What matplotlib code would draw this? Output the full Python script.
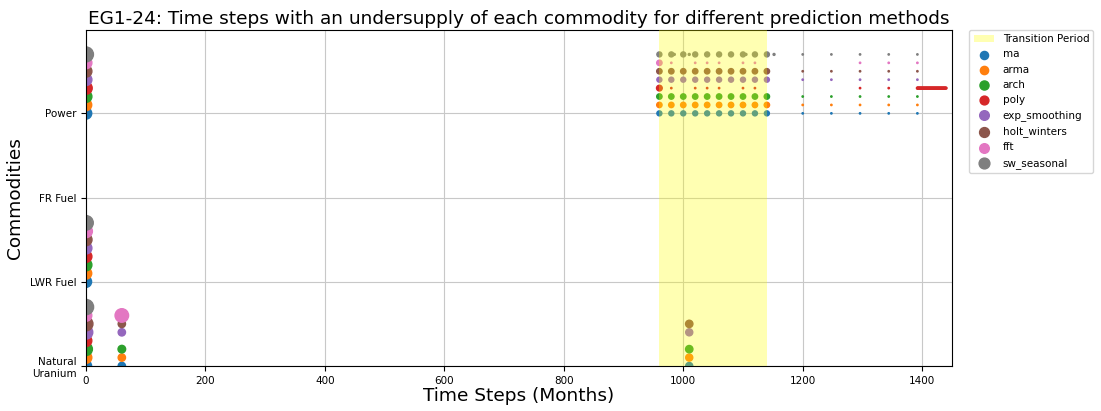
"""
Undersupply time steps per commodity for each prediction method (EG1-24)
"""
import numpy as np
import matplotlib
matplotlib.use("Agg")
import matplotlib.pyplot as plt

# ── data ──
commodities = ["Natural\nUranium", "LWR Fuel", "FR Fuel", "Power"]
methods = ["ma", "arma", "arch", "poly", "exp_smoothing",
           "holt_winters", "fft", "sw_seasonal"]
colors = ["#1f77b4", "#ff7f0e", "#2ca02c", "#d62728", "#9467bd",
          "#8c564b", "#e377c2", "#7f7f7f"]

transition = (960, 1140)

# marker size = undersupply magnitude (0 = no undersupply)
nu_t0_sizes = [65, 70, 85, 70, 95, 100, 70, 120]
lwr_t0_sizes = [65, 68, 72, 72, 72, 75, 85, 110]
power_t0_sizes = [68, 68, 72, 80, 72, 72, 72, 115]

nu_t60_sizes = [28, 28, 30, 0, 28, 28, 95, 0]
nu_t1010_sizes = [26, 26, 28, 0, 26, 28, 0, 0]

power_trans_steps = [960, 980, 1000, 1020, 1040, 1060, 1080, 1100, 1120, 1140]
power_trans_sizes = {
    "ma":            [13, 13, 13, 13, 13, 13, 13, 13, 13, 13],
    "arma":          [15, 15, 15, 15, 15, 15, 15, 15, 15, 15],
    "arch":          [15, 15, 15, 15, 15, 15, 15, 15, 15, 15],
    "poly":          [17, 1, 0, 1, 1, 1, 0, 1, 1, 0],
    "exp_smoothing": [13, 13, 13, 13, 13, 13, 13, 13, 13, 13],
    "holt_winters":  [15, 15, 15, 15, 15, 15, 15, 15, 15, 15],
    "fft":           [15, 1, 0, 1, 1, 1, 0, 1, 1, 0],
    "sw_seasonal":   [13, 13, 13, 13, 13, 13, 13, 13, 13, 13],
}
sw_extra_steps = [985, 1010, 1105, 1152]
sw_extra_sizes = [2, 2, 2, 2]

power_late_steps = [1200, 1248, 1296, 1344, 1392]
power_late_sizes = {
    "ma":            [1, 1, 1, 1, 1],
    "arma":          [1, 1, 1, 1, 1],
    "arch":          [1, 1, 1, 1, 1],
    "poly":          [0, 0, 1, 1, 1],
    "exp_smoothing": [1, 1, 1, 1, 1],
    "holt_winters":  [1, 1, 1, 1, 1],
    "fft":           [0, 0, 1, 1, 1],
    "sw_seasonal":   [1, 1, 1, 1, 1],
}
poly_tail_steps = list(range(1392, 1441))
poly_tail_size = 2


def collect(i, m):
    xs, ys, ss = [], [], []
    off = 0.1 * i
    # (commodity index, step, size)
    for c, sizes in [(0, nu_t0_sizes), (1, lwr_t0_sizes), (3, power_t0_sizes)]:
        if sizes[i] > 0:
            xs.append(0); ys.append(c + off); ss.append(sizes[i])
    for t, sizes in [(60, nu_t60_sizes), (1010, nu_t1010_sizes)]:
        if sizes[i] > 0:
            xs.append(t); ys.append(off); ss.append(sizes[i])
    for t, s in zip(power_trans_steps, power_trans_sizes[m]):
        if s > 0:
            xs.append(t); ys.append(3 + off); ss.append(s)
    for t, s in zip(power_late_steps, power_late_sizes[m]):
        if s > 0:
            xs.append(t); ys.append(3 + off); ss.append(s)
    if m == "sw_seasonal":
        for t, s in zip(sw_extra_steps, sw_extra_sizes):
            xs.append(t); ys.append(3 + off); ss.append(s)
    if m == "poly":
        for t in poly_tail_steps:
            xs.append(t); ys.append(3 + off); ss.append(poly_tail_size)
    return np.array(xs), np.array(ys), np.array(ss)


fig, ax = plt.subplots(figsize=(11.01, 4.11), dpi=100)
fig.subplots_adjust(left=0.0781, right=0.8647, top=0.927, bottom=0.1095)

# span first so it leads the legend, but drawn above the points
ax.axvspan(transition[0], transition[1], color="yellow", alpha=0.3,
           lw=0, zorder=3, label="Transition Period")

for i, m in enumerate(methods):
    xs, ys, ss = collect(i, m)
    ax.scatter(xs, ys, s=ss, color=colors[i], label=m, zorder=2)

ax.set_xlim(0, 1450)
ax.set_ylim(0, 3.99)
ax.set_yticks(range(len(commodities)))
ax.set_yticklabels(commodities)
ax.tick_params(labelsize=7.5)
ax.grid(True, color="#c8c8c8", lw=0.8)
ax.set_axisbelow(True)

ax.set_title("EG1-24: Time steps with an undersupply of each commodity for "
             "different prediction methods", fontsize=13.3, pad=4)
ax.set_xlabel("Time Steps (Months)", fontsize=13.3, labelpad=1)
ax.set_ylabel("Commodities", fontsize=13.3)
ax.legend(loc="upper left", bbox_to_anchor=(1.02, 1.0), borderaxespad=0,
          fontsize=7.5, scatterpoints=1)

fig.savefig("out.png", dpi=100)
